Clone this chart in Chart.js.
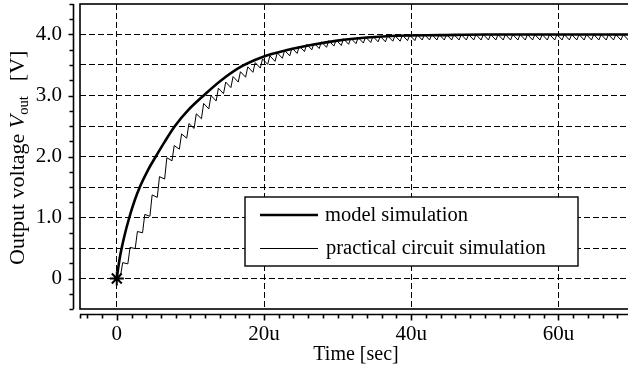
<!DOCTYPE html>
<html lang="en">
<head>
    <meta charset="UTF-8">
    <title>Output voltage Vout</title>
    <script src="https://cdn.jsdelivr.net/npm/chart.js"></script>
    <style>
        html, body { margin: 0; padding: 0; background: #ffffff; overflow: hidden; }
        #caixa { width: 628px; height: 373px; overflow: hidden; }
    </style>
</head>
<body>

    <div id="caixa">
        <canvas id="grafico" width="632" height="373"></canvas>
    </div>

<script>

    // model simulation (time in us, voltage in V)
    var modelTime = [0, 0.25, 0.5, 1, 1.7, 2.4, 3.2, 4.2, 5.3, 6.5, 7.9, 9.7, 11.8, 14.2, 17, 20, 23, 26, 30, 34, 38, 44, 50, 58, 70];
    var modelVoltage = [0, 0.22, 0.4, 0.68, 1.0, 1.27, 1.52, 1.77, 2.0, 2.24, 2.5, 2.76, 3.0, 3.25, 3.48, 3.64, 3.74, 3.82, 3.9, 3.95, 3.98, 3.99, 4.0, 4.0, 4.0];

    // practical circuit simulation: one clock cycle per us
    var practicalStartTime = [0, 0.5];
    var practicalStartVoltage = [0, 0.04];
    var practicalPeak = [
        0.26, 0.51, 0.77, 1.05, 1.37, 1.67, 1.98, 2.18, 2.37, 2.54,
        2.70, 2.87, 3.00, 3.12, 3.22, 3.31, 3.39, 3.47, 3.54, 3.60,
        3.65, 3.70, 3.74, 3.78, 3.81, 3.84, 3.86, 3.88, 3.90, 3.91,
        3.93, 3.94, 3.95, 3.96, 3.97, 3.97, 3.98, 3.98, 3.99, 3.99,
        4.00, 4.00, 4.00, 4.00, 4.00, 4.00, 4.00, 4.00, 4.00, 4.00,
        4.00, 4.00, 4.00, 4.00, 4.00, 4.00, 4.00, 4.00, 4.00, 4.00,
        4.00, 4.00, 4.00, 4.00, 4.00, 4.00, 4.00, 4.00, 4.00, 4.00
    ];
    var practicalValley = [
        0.24, 0.49, 0.75, 1.02, 1.33, 1.63, 1.93, 2.12, 2.30, 2.46,
        2.62, 2.78, 2.91, 3.03, 3.13, 3.22, 3.30, 3.38, 3.45, 3.51,
        3.56, 3.61, 3.65, 3.69, 3.72, 3.75, 3.77, 3.79, 3.81, 3.82,
        3.84, 3.85, 3.86, 3.87, 3.88, 3.88, 3.89, 3.89, 3.90, 3.90,
        3.91, 3.91, 3.91, 3.91, 3.91, 3.91, 3.91, 3.91, 3.91, 3.91,
        3.91, 3.91, 3.91, 3.91, 3.91, 3.91, 3.91, 3.91, 3.91, 3.91,
        3.91, 3.91, 3.91, 3.91, 3.91, 3.91, 3.91, 3.91, 3.91, 3.91
    ];
    var cycleStart = 0.5;
    var riseTime = 0.3;

    // start marker
    var markerTime = [0];
    var markerVoltage = [0];

    // ticks
    var xTicks = [0, 20, 40, 60];
    var xTickLabels = ['0', '20u', '40u', '60u'];
    var yTicks = [0, 0.5, 1.0, 1.5, 2.0, 2.5, 3.0, 3.5, 4.0];
    var yTickLabels = ['0', '', '1.0', '', '2.0', '', '3.0', '', '4.0'];
    var xMinorTicks = [-5, -4, -2, 0, 2, 4, 6, 8, 10, 12, 14, 16, 18, 20, 22, 24, 26, 28, 30, 32, 34, 36, 38, 40, 42, 44, 46, 48, 50, 52, 54, 56, 58, 60, 62, 64, 66, 68, 70];
    var yMinorTicks = [-0.5, -0.25, 0, 0.25, 0.5, 0.75, 1, 1.25, 1.5, 1.75, 2, 2.25, 2.5, 2.75, 3, 3.25, 3.5, 3.75, 4, 4.25, 4.5];

    var fonte = "'Liberation Serif', 'DejaVu Serif', serif";

    var modelo = modelTime.map((t, i) => ({ x: t, y: modelVoltage[i] }));

    var pratico = practicalStartTime.map((t, i) => ({ x: t, y: practicalStartVoltage[i] }));
    for (var k = 0; k < practicalPeak.length; k++) {
        pratico.push({ x: k + cycleStart + riseTime, y: practicalPeak[k] });
        pratico.push({ x: k + cycleStart + 1, y: practicalValley[k] });
    }

    // the scales must not push the plot area around
    function semPadding(s) {
        s.paddingTop = 0;
        s.paddingBottom = 0;
        s.paddingLeft = 0;
        s.paddingRight = 0;
    }

    // frame, offset axes, start marker, y title and legend
    const moldura = {
        id: 'moldura',
        afterDraw(chart) {
            const { ctx, chartArea: a, scales: { x, y } } = chart;
            ctx.save();
            ctx.strokeStyle = '#000';
            ctx.fillStyle = '#000';

            // plot frame
            ctx.lineWidth = 1.6;
            ctx.strokeRect(a.left, a.top, a.right - a.left + 4, a.bottom - a.top);

            // left axis, a little away from the frame
            var ax = a.left - 6.5;
            ctx.beginPath();
            ctx.moveTo(ax, a.top);
            ctx.lineTo(ax, a.bottom);
            yMinorTicks.forEach(v => {
                var py = Math.round(y.getPixelForValue(v)) + 0.5;
                var len = Number.isInteger(v) ? 5 : 4;
                ctx.moveTo(ax, py);
                ctx.lineTo(ax - len, py);
            });
            ctx.stroke();

            // bottom axis
            var ay = a.bottom + 5.5;
            ctx.beginPath();
            ctx.moveTo(a.left, ay);
            ctx.lineTo(a.right, ay);
            xMinorTicks.forEach(v => {
                var px = Math.round(x.getPixelForValue(v)) + 0.5;
                var len = (v % 20 === 0) ? 6 : 4;
                ctx.moveTo(px, ay);
                ctx.lineTo(px, ay + len);
            });
            ctx.stroke();

            // asterisk at the start point
            ctx.lineWidth = 2;
            markerTime.forEach((t, i) => {
                var mx = x.getPixelForValue(t);
                var my = y.getPixelForValue(markerVoltage[i]);
                var r = 7;
                var d = r * Math.SQRT1_2;
                ctx.beginPath();
                ctx.moveTo(mx - r, my); ctx.lineTo(mx + r, my);
                ctx.moveTo(mx - d, my - d); ctx.lineTo(mx + d, my + d);
                ctx.moveTo(mx - d, my + d); ctx.lineTo(mx + d, my - d);
                ctx.moveTo(mx, my - r); ctx.lineTo(mx, my + r);
                ctx.stroke();
            });

            // y axis title with italic V and subscript
            ctx.save();
            ctx.translate(24, 265);
            ctx.rotate(-Math.PI / 2);
            ctx.textAlign = 'left';
            ctx.textBaseline = 'alphabetic';
            var w = 0;
            ctx.font = '22px ' + fonte;
            ctx.fillText('Output voltage ', w, 0);
            w += ctx.measureText('Output voltage ').width;
            ctx.font = 'italic 22px ' + fonte;
            ctx.fillText('V', w, 0);
            w += ctx.measureText('V').width;
            ctx.font = '14.5px ' + fonte;
            ctx.fillText('out', w, 4);
            w += ctx.measureText('out').width + 15;
            ctx.font = '22px ' + fonte;
            ctx.fillText('[V]', w, 0);
            ctx.restore();

            // legend
            ctx.fillStyle = '#fff';
            ctx.fillRect(245, 197, 333, 69);
            ctx.lineWidth = 1.4;
            ctx.strokeRect(245, 197, 333, 69);
            const ds = chart.data.datasets;
            ctx.lineWidth = ds[0].borderWidth;
            ctx.beginPath();
            ctx.moveTo(260, 215);
            ctx.lineTo(318, 215);
            ctx.stroke();
            ctx.lineWidth = ds[1].borderWidth;
            ctx.beginPath();
            ctx.moveTo(260, 248.5);
            ctx.lineTo(318, 248.5);
            ctx.stroke();
            ctx.fillStyle = '#000';
            ctx.font = '20.5px ' + fonte;
            ctx.textAlign = 'left';
            ctx.textBaseline = 'alphabetic';
            ctx.fillText(ds[0].label, 325, 221);
            ctx.fillText(ds[1].label, 326, 253.5);

            ctx.restore();
        }
    };

    const ctx = document.getElementById('grafico').getContext('2d');
    const grafico = new Chart(ctx, {
        type: 'line',
        data: {
            datasets: [{
                label: 'model simulation',
                data: modelo,
                borderColor: '#000',
                borderWidth: 2.6,
                pointRadius: 0,
                pointHoverRadius: 0,
                cubicInterpolationMode: 'monotone'
            }, {
                label: 'practical circuit simulation',
                data: pratico,
                borderColor: '#000',
                borderWidth: 1,
                pointRadius: 0,
                pointHoverRadius: 0,
                tension: 0
            }]
        },
        options: {
            responsive: false,
            animation: false,
            layout: { padding: { top: 4, left: 0, right: 0, bottom: 0 } },
            plugins: {
                legend: { display: false },
                tooltip: { enabled: false }
            },
            scales: {
                x: {
                    type: 'linear',
                    min: -5,
                    max: 70,
                    afterBuildTicks: s => { s.ticks = xTicks.map(v => ({ value: v })); },
                    afterFit: s => { s.height = 64; semPadding(s); },
                    grid: { color: '#000', lineWidth: 1, drawTicks: false },
                    border: { display: false, dash: [6, 3] },
                    ticks: {
                        padding: 13,
                        color: '#000',
                        autoSkip: false,
                        maxRotation: 0,
                        font: { family: fonte, size: 21 },
                        callback: (v, i) => xTickLabels[i]
                    },
                    title: {
                        display: true,
                        text: 'Time [sec]',
                        color: '#000',
                        font: { family: fonte, size: 20 },
                        padding: { top: 0, bottom: 6 }
                    }
                },
                y: {
                    type: 'linear',
                    min: -0.5,
                    max: 4.5,
                    afterBuildTicks: s => { s.ticks = yTicks.map(v => ({ value: v })); },
                    afterFit: s => { s.width = 80; semPadding(s); },
                    grid: { color: '#000', lineWidth: 1, drawTicks: false },
                    border: { display: false, dash: [6, 3] },
                    ticks: {
                        padding: 18,
                        color: '#000',
                        autoSkip: false,
                        font: { family: fonte, size: 21 },
                        callback: (v, i) => yTickLabels[i]
                    }
                }
            }
        },
        plugins: [moldura]
    });

</script>
</body>
</html>
